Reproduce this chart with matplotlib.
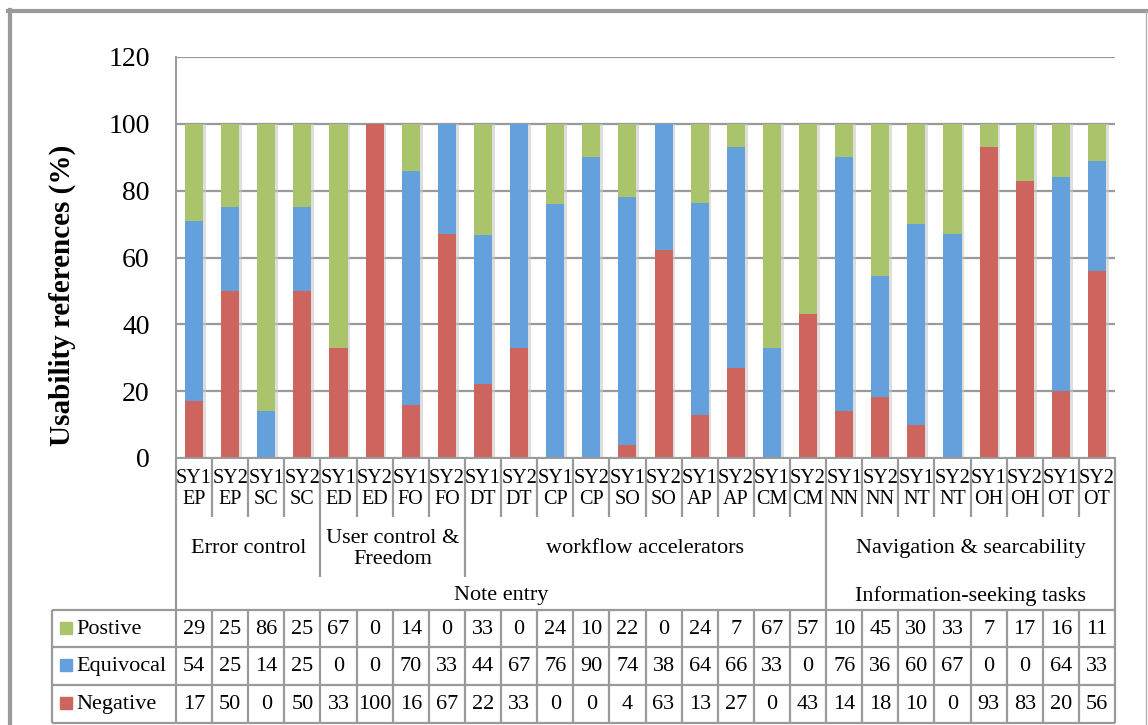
""" Stacked usability references per system and feature, with a data table below. """
import numpy as np
import matplotlib.pyplot as plt
from matplotlib import patheffects as pe
from matplotlib.lines import Line2D

W, H = 1148, 725
plt.rcParams['font.family'] = ['Liberation Serif', 'DejaVu Serif']

systems = ['SY1', 'SY2'] * 13
codes = ['EP', 'EP', 'SC', 'SC', 'ED', 'ED', 'FO', 'FO', 'DT', 'DT', 'CP', 'CP', 'SO',
         'SO', 'AP', 'AP', 'CM', 'CM', 'NN', 'NN', 'NT', 'NT', 'OH', 'OH', 'OT', 'OT']
positive = [29, 25, 86, 25, 67, 0, 14, 0, 33, 0, 24, 10, 22, 0, 24, 7, 67, 57, 10, 45,
            30, 33, 7, 17, 16, 11]
equivocal = [54, 25, 14, 25, 0, 0, 70, 33, 44, 67, 76, 90, 74, 38, 64, 66, 33, 0, 76,
             36, 60, 67, 0, 0, 64, 33]
negative = [17, 50, 0, 50, 33, 100, 16, 67, 22, 33, 0, 0, 4, 63, 13, 27, 0, 43, 14, 18,
            10, 0, 93, 83, 20, 56]
groups = ['Error control', 'User control &\nFreedom', 'workflow accelerators',
          'Navigation & searcability']
group_sizes = [4, 4, 10, 8]
tasks = ['Note entry', 'Information-seeking tasks']
task_sizes = [18, 8]

GREEN, BLUE, RED = '#a9c46a', '#64a0dc', '#cd645e'
LINE = '#9a9a9a'


def fx(px):
    return px / W


def fy(py):
    return 1 - py / H


fig = plt.figure(figsize=(W / 100, H / 100), dpi=100)

# 100% stacked bars: each column scaled to its own total
ax = fig.add_axes([fx(176), fy(458), fx(1115) - fx(176), fy(57) - fy(458)])
x = np.arange(len(codes))
pos = np.array(positive, float)
equ = np.array(equivocal, float)
neg = np.array(negative, float)
total = pos + equ + neg
pos, equ, neg = pos / total * 100, equ / total * 100, neg / total * 100

shadow = [pe.SimplePatchShadow(offset=(2, 0), shadow_rgbFace='#c8c8c8', alpha=0.6),
          pe.Normal()]
ax.bar(x, neg, 0.5, color=RED, path_effects=shadow)
ax.bar(x, equ, 0.5, bottom=neg, color=BLUE, path_effects=shadow)
ax.bar(x, pos, 0.5, bottom=neg + equ, color=GREEN, path_effects=shadow)
ax.set_xlim(-0.5, len(codes) - 0.5)
ax.set_ylim(0, 120)
ax.set_yticks(range(0, 121, 20))
ax.yaxis.grid(True, color=LINE, lw=1.6)
ax.set_axisbelow(True)
for s in ('top', 'right'):
    ax.spines[s].set_visible(False)
for s in ('left', 'bottom'):
    ax.spines[s].set_color(LINE)
    ax.spines[s].set_linewidth(1.4)
ax.tick_params(axis='y', length=0, labelsize=20, pad=19)
ax.tick_params(axis='x', length=0, labelbottom=False)
fig.text(fx(62), fy(295), 'Usability references (%)', rotation=90, ha='center',
         va='center', fontsize=21, fontweight='bold')

# category labels, groups and data table
tab = fig.add_axes([fx(176), fy(723), fx(1115) - fx(176), fy(458) - fy(723)])
tab.set_xlim(-0.5, len(codes) - 0.5)
tab.set_ylim(723, 458)
tab.axis('off')
step = 939 / len(codes)


def px2x(px):
    return -0.5 + (px - 176) / step


def vline(xv, y0, y1):
    tab.plot([xv, xv], [y0, y1], color=LINE, lw=1.6, clip_on=False,
             solid_capstyle='butt')


group_edges = np.cumsum(group_sizes)
task_edges = np.cumsum(task_sizes)
for i in range(len(codes) + 1):
    if i in (0, len(codes)):
        vline(i - 0.5, 458, 723)
    elif i in task_edges:
        vline(i - 0.5, 458, 723)
    elif i in group_edges:
        vline(i - 0.5, 458, 577)
        vline(i - 0.5, 610, 723)
    else:
        vline(i - 0.5, 458, 517)
        vline(i - 0.5, 610, 723)

for i, (sy, code) in enumerate(zip(systems, codes)):
    tab.text(i, 489, f'{sy}\n{code}', ha='center', va='center', fontsize=14.5,
             linespacing=1.15)

start = 0
for name, n in zip(groups, group_sizes):
    tab.text(start + n / 2 - 0.5, 549, name, ha='center', va='center', fontsize=16,
             linespacing=1.1)
    start += n
start = 0
for name, n in zip(tasks, task_sizes):
    tab.text(start + n / 2 - 0.5, 596, name, ha='center', va='center', fontsize=16)
    start += n

left = px2x(52)
for yv in (610, 647, 685, 723):
    tab.plot([left, len(codes) - 0.5], [yv, yv], color=LINE, lw=1.6, clip_on=False,
             solid_capstyle='butt')
vline(left, 610, 723)

rows = [('Postive', positive, GREEN), ('Equivocal', equivocal, BLUE),
        ('Negative', negative, RED)]
for (label, vals, color), yc in zip(rows, (630, 667, 705)):
    tab.plot(px2x(66), yc - 2, 's', color=color, markersize=8.5, clip_on=False)
    tab.text(px2x(76), yc, label, ha='left', va='center', fontsize=16)
    for i, v in enumerate(vals):
        tab.text(i, yc, str(v), ha='center', va='center', fontsize=16)

# chart frame
fig.add_artist(Line2D([fx(9.5), fx(9.5)], [fy(10), 0], color='#9a9a9a', lw=3))
fig.add_artist(Line2D([fx(8), fx(1147)], [fy(11), fy(11)], color='#9a9a9a', lw=3))
fig.add_artist(Line2D([fx(1146), fx(1146)], [fy(11), 0], color='#b0b0b0', lw=1))

plt.savefig('out.png', dpi=100)
